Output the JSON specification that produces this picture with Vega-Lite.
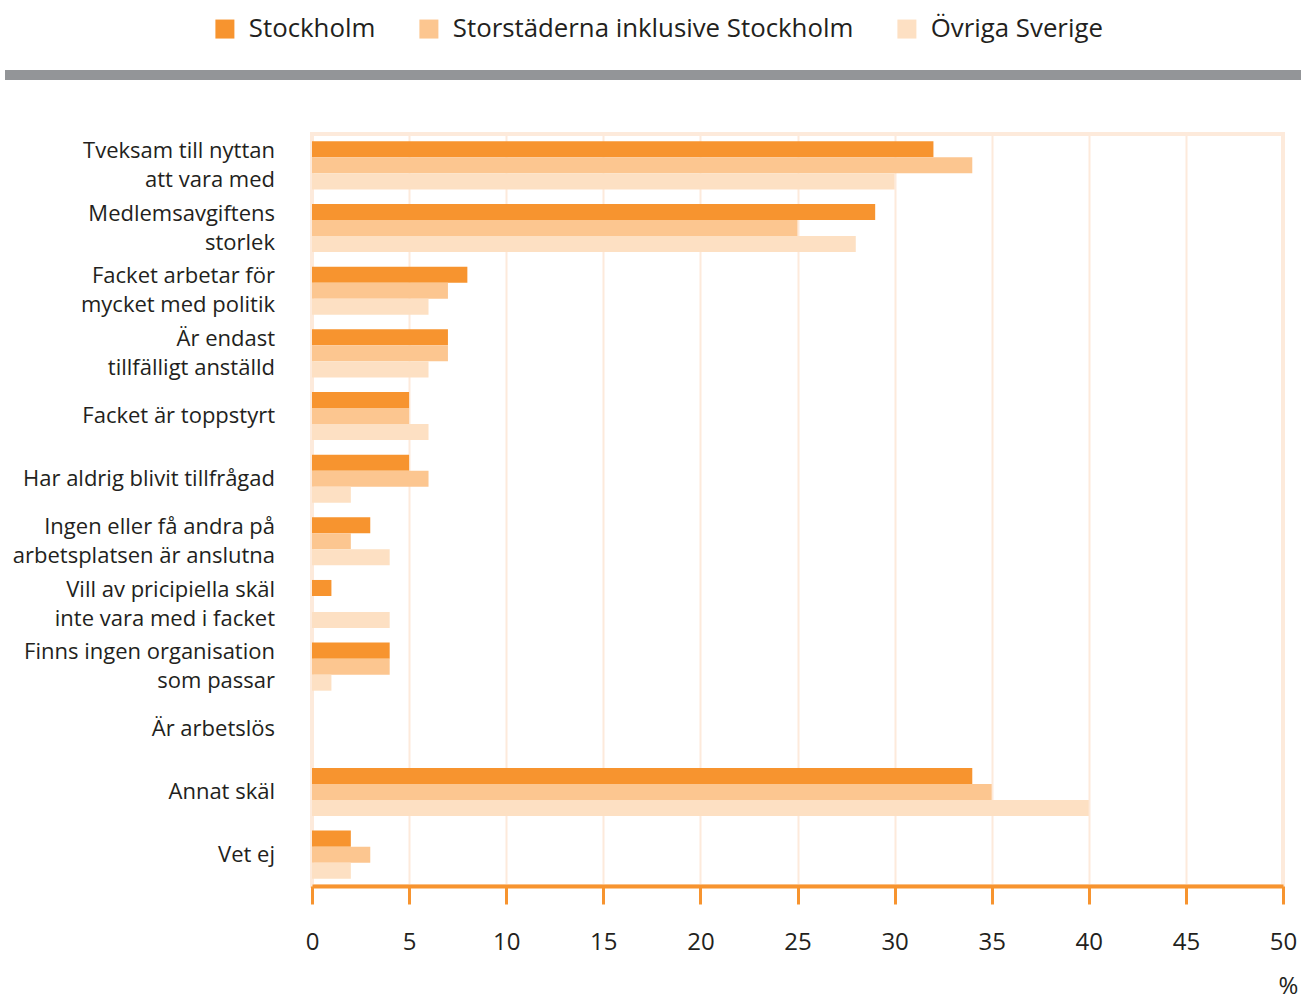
{
  "$schema": "https://vega.github.io/schema/vega-lite/v6.json",
  "background": "white",
  "padding": {"left": 5, "top": 16, "right": 0, "bottom": 0},
  "spacing": 52,
  "config": {
    "view": {"stroke": null},
    "font": "Open Sans",
    "text": {"font": "Open Sans"}
  },
  "datasets": {
    "bars": [
      {"reason": "Tveksam till nyttan\natt vara med", "series": "Stockholm", "value": 32},
      {"reason": "Tveksam till nyttan\natt vara med", "series": "Storstäderna inklusive Stockholm", "value": 34},
      {"reason": "Tveksam till nyttan\natt vara med", "series": "Övriga Sverige", "value": 30},
      {"reason": "Medlemsavgiftens\nstorlek", "series": "Stockholm", "value": 29},
      {"reason": "Medlemsavgiftens\nstorlek", "series": "Storstäderna inklusive Stockholm", "value": 25},
      {"reason": "Medlemsavgiftens\nstorlek", "series": "Övriga Sverige", "value": 28},
      {"reason": "Facket arbetar för\nmycket med politik", "series": "Stockholm", "value": 8},
      {"reason": "Facket arbetar för\nmycket med politik", "series": "Storstäderna inklusive Stockholm", "value": 7},
      {"reason": "Facket arbetar för\nmycket med politik", "series": "Övriga Sverige", "value": 6},
      {"reason": "Är endast\ntillfälligt anställd", "series": "Stockholm", "value": 7},
      {"reason": "Är endast\ntillfälligt anställd", "series": "Storstäderna inklusive Stockholm", "value": 7},
      {"reason": "Är endast\ntillfälligt anställd", "series": "Övriga Sverige", "value": 6},
      {"reason": "Facket är toppstyrt", "series": "Stockholm", "value": 5},
      {"reason": "Facket är toppstyrt", "series": "Storstäderna inklusive Stockholm", "value": 5},
      {"reason": "Facket är toppstyrt", "series": "Övriga Sverige", "value": 6},
      {"reason": "Har aldrig blivit tillfrågad", "series": "Stockholm", "value": 5},
      {"reason": "Har aldrig blivit tillfrågad", "series": "Storstäderna inklusive Stockholm", "value": 6},
      {"reason": "Har aldrig blivit tillfrågad", "series": "Övriga Sverige", "value": 2},
      {"reason": "Ingen eller få andra på\narbetsplatsen är anslutna", "series": "Stockholm", "value": 3},
      {"reason": "Ingen eller få andra på\narbetsplatsen är anslutna", "series": "Storstäderna inklusive Stockholm", "value": 2},
      {"reason": "Ingen eller få andra på\narbetsplatsen är anslutna", "series": "Övriga Sverige", "value": 4},
      {"reason": "Vill av pricipiella skäl\ninte vara med i facket", "series": "Stockholm", "value": 1},
      {"reason": "Vill av pricipiella skäl\ninte vara med i facket", "series": "Storstäderna inklusive Stockholm", "value": 0},
      {"reason": "Vill av pricipiella skäl\ninte vara med i facket", "series": "Övriga Sverige", "value": 4},
      {"reason": "Finns ingen organisation\nsom passar", "series": "Stockholm", "value": 4},
      {"reason": "Finns ingen organisation\nsom passar", "series": "Storstäderna inklusive Stockholm", "value": 4},
      {"reason": "Finns ingen organisation\nsom passar", "series": "Övriga Sverige", "value": 1},
      {"reason": "Är arbetslös", "series": "Stockholm", "value": 0},
      {"reason": "Är arbetslös", "series": "Storstäderna inklusive Stockholm", "value": 0},
      {"reason": "Är arbetslös", "series": "Övriga Sverige", "value": 0},
      {"reason": "Annat skäl", "series": "Stockholm", "value": 34},
      {"reason": "Annat skäl", "series": "Storstäderna inklusive Stockholm", "value": 35},
      {"reason": "Annat skäl", "series": "Övriga Sverige", "value": 40},
      {"reason": "Vet ej", "series": "Stockholm", "value": 2},
      {"reason": "Vet ej", "series": "Storstäderna inklusive Stockholm", "value": 3},
      {"reason": "Vet ej", "series": "Övriga Sverige", "value": 2}
    ]
  },
  "vconcat": [
    {
      "width": 1296,
      "height": 10,
      "data": {"values": [{"start": 0, "end": 1}]},
      "mark": {"type": "rect", "color": "#939598"},
      "encoding": {
        "x": {"field": "start", "type": "quantitative", "scale": {"domain": [0, 1], "nice": false}, "axis": null},
        "x2": {"field": "end"},
        "y": {"datum": 0, "type": "quantitative", "scale": {"domain": [0, 1]}, "axis": null},
        "y2": {"datum": 1}
      }
    },
    {
      "spacing": 28,
      "hconcat": [
        {
          "width": 270,
          "height": 752,
          "data": {"name": "bars"},
          "transform": [{"filter": "datum.series === 'Stockholm'"}],
          "encoding": {
            "y": {
              "field": "reason",
              "type": "nominal",
              "sort": [
                "Tveksam till nyttan\natt vara med",
                "Medlemsavgiftens\nstorlek",
                "Facket arbetar för\nmycket med politik",
                "Är endast\ntillfälligt anställd",
                "Facket är toppstyrt",
                "Har aldrig blivit tillfrågad",
                "Ingen eller få andra på\narbetsplatsen är anslutna",
                "Vill av pricipiella skäl\ninte vara med i facket",
                "Finns ingen organisation\nsom passar",
                "Är arbetslös",
                "Annat skäl",
                "Vet ej"
              ],
              "scale": {"paddingInner": 0.233, "paddingOuter": 0.117},
              "axis": null
            },
            "x": {"datum": 1, "type": "quantitative", "scale": {"domain": [0, 1], "nice": false}, "axis": null},
            "text": {"field": "reason"}
          },
          "layer": [
            {
              "transform": [{"filter": "indexof(datum.reason, '\\n') < 0"}],
              "mark": {
                "type": "text",
                "align": "right",
                "baseline": "middle",
                "fontSize": 22,
                "color": "#231f20"
              }
            },
            {
              "transform": [{"filter": "indexof(datum.reason, '\\n') >= 0"}],
              "mark": {
                "type": "text",
                "align": "right",
                "baseline": "middle",
                "lineBreak": "\n",
                "lineHeight": 29,
                "dy": -14.5,
                "fontSize": 22,
                "color": "#231f20"
              }
            }
          ]
        },
        {
          "width": 971,
          "height": 752,
          "view": {"stroke": "#fdeadb", "strokeWidth": 4},
          "data": {"name": "bars"},
          "mark": {"type": "bar"},
          "encoding": {
            "y": {
              "field": "reason",
              "type": "nominal",
              "sort": [
                "Tveksam till nyttan\natt vara med",
                "Medlemsavgiftens\nstorlek",
                "Facket arbetar för\nmycket med politik",
                "Är endast\ntillfälligt anställd",
                "Facket är toppstyrt",
                "Har aldrig blivit tillfrågad",
                "Ingen eller få andra på\narbetsplatsen är anslutna",
                "Vill av pricipiella skäl\ninte vara med i facket",
                "Finns ingen organisation\nsom passar",
                "Är arbetslös",
                "Annat skäl",
                "Vet ej"
              ],
              "scale": {"paddingInner": 0.233, "paddingOuter": 0.117},
              "axis": null
            },
            "yOffset": {
              "field": "series",
              "type": "nominal",
              "sort": ["Stockholm", "Storstäderna inklusive Stockholm", "Övriga Sverige"],
              "scale": {"paddingInner": 0, "paddingOuter": 0}
            },
            "x": {
              "field": "value",
              "type": "quantitative",
              "scale": {"domain": [0, 50], "nice": false},
              "axis": {
                "values": [0, 5, 10, 15, 20, 25, 30, 35, 40, 45, 50],
                "grid": true,
                "gridColor": "#fdeadb",
                "gridWidth": 2,
                "domainColor": "#f7942f",
                "domainWidth": 4,
                "tickColor": "#f7942f",
                "tickWidth": 3,
                "tickSize": 18,
                "labelFontSize": 24,
                "labelColor": "#231f20",
                "labelPadding": 26,
                "labelFlush": false,
                "title": "%",
                "titleFontSize": 24,
                "titleFontWeight": "normal",
                "titleColor": "#231f20",
                "titleAnchor": "end",
                "titleAlign": "center",
                "titleX": 976,
                "titleY": 100,
                "titleBaseline": "middle"
              }
            },
            "color": {
              "field": "series",
              "type": "nominal",
              "sort": ["Stockholm", "Storstäderna inklusive Stockholm", "Övriga Sverige"],
              "scale": {
                "domain": ["Stockholm", "Storstäderna inklusive Stockholm", "Övriga Sverige"],
                "range": ["#f7942f", "#fcc690", "#fde0c3"]
              },
              "legend": {
                "title": null,
                "orient": "none",
                "direction": "horizontal",
                "legendX": 207,
                "legendY": -54,
                "symbolType": "square",
                "symbolSize": 361,
                "symbolStrokeWidth": 0,
                "labelFontSize": 25.8,
                "labelColor": "#231f20",
                "labelOffset": 11,
                "columnPadding": 40,
                "labelLimit": 500
              }
            }
          }
        }
      ]
    }
  ]
}
